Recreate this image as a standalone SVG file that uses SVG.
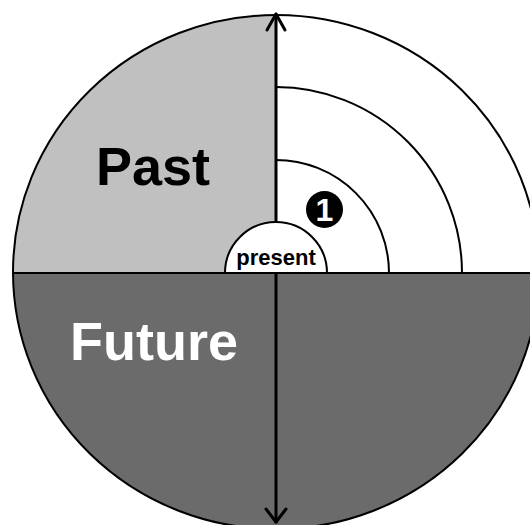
<svg xmlns="http://www.w3.org/2000/svg" width="530" height="525" viewBox="0 0 530 525">
<style>
.ln{fill:none;stroke:#000;stroke-width:2}
.ar{fill:none;stroke:#000;stroke-width:3;stroke-linecap:round;stroke-linejoin:round}
.big{font-family:"Liberation Sans",Arial,sans-serif;font-weight:bold;font-size:54px}
.sm{font-family:"Liberation Sans",Arial,sans-serif;font-weight:bold;font-size:22px}
</style>
<defs>
<clipPath id="clip"><ellipse cx="276" cy="272" rx="263" ry="257"/></clipPath>
</defs>
<rect width="530" height="525" fill="#fff"/>
<g id="disc">
<ellipse cx="276" cy="272" rx="263" ry="257" fill="#fff"/>
<g clip-path="url(#clip)">
<rect id="past-quadrant" x="0" y="0" width="276" height="273" fill="#c0c0c0"/>
<rect id="future-half" x="0" y="273" width="560" height="270" fill="#6b6b6b"/>
</g>
</g>
<g id="rings">
<path class="ln" d="M276,87 A186,186 0 0 1 462,273"/>
<path class="ln" d="M276,160 A113,113 0 0 1 389,273"/>
</g>
<g id="connectors">
<line class="ln" x1="13" y1="273" x2="545" y2="273"/>
<line class="ar" x1="276" y1="14" x2="276" y2="522"/>
<path class="ar" d="M267,30 L276,14 L285,30"/>
<path class="ar" d="M266,509 L276,522 L286,509"/>
</g>
<g id="present">
<path d="M225,273 A51,51 0 0 1 327,273 Z" fill="#fff" stroke="#000" stroke-width="2"/>
<text class="sm" x="276" y="265" text-anchor="middle">present</text>
</g>
<ellipse class="ln" cx="276" cy="272" rx="263" ry="257"/>
<g id="label-past"><text class="big" x="96" y="185">Past</text></g>
<g id="label-future"><text class="big" x="70" y="360" fill="#fff">Future</text></g>
<g id="badge-1">
<circle cx="324.5" cy="209.5" r="18.5" fill="#000"/>
<text x="324.5" y="221" text-anchor="middle" fill="#fff" style="font-family:'Liberation Sans',Arial,sans-serif;font-weight:bold;font-size:32px">1</text>
</g>
</svg>
